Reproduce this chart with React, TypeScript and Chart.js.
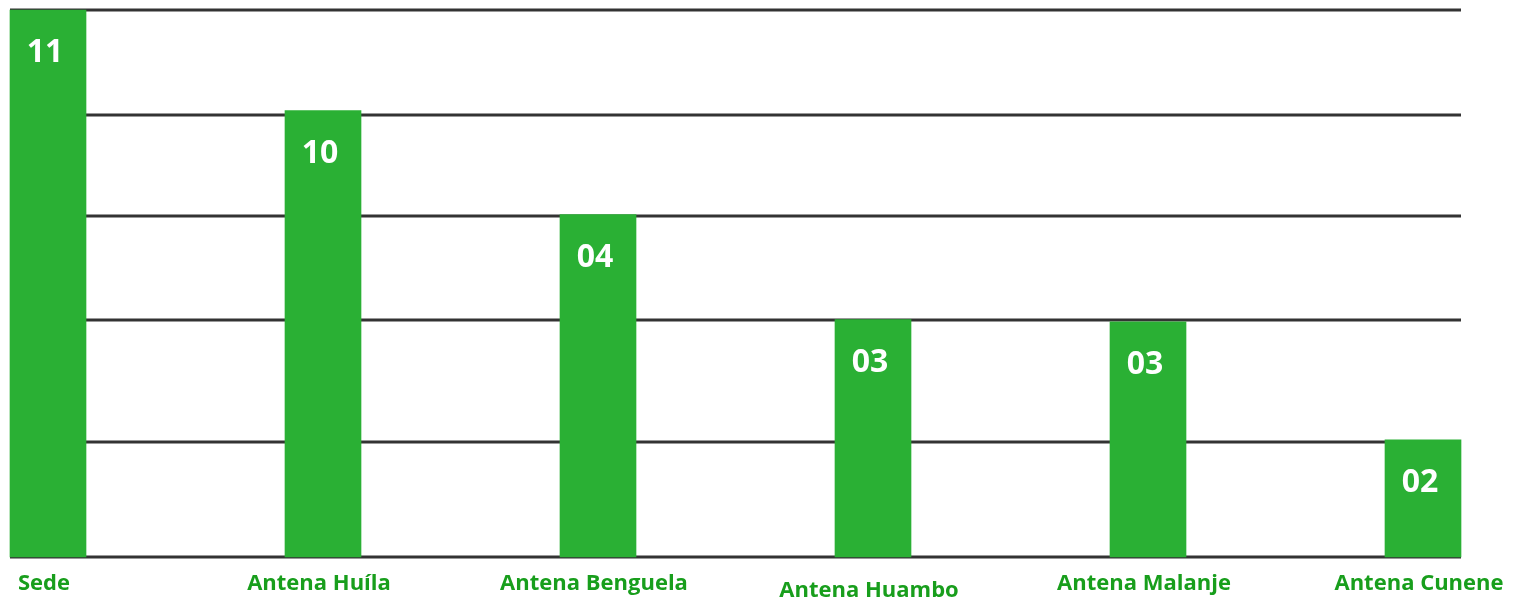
import React, { useEffect, useRef } from "react";
import { Chart, registerables } from "chart.js";

Chart.register(...registerables);

const categories = ["Sede", "Antena Huíla", "Antena Benguela", "Antena Huambo", "Antena Malanje", "Antena Cunene"];
const valueLabels = ["11", "10", "04", "03", "03", "02"];
// bar heights as drawn in the picture (grid levels)
const barLevels = [5, 4.08, 3.13, 2.17, 2.15, 1.07];
const gridLevels = [0, 1.05, 2.17, 3.12, 4.04, 5];

const BAR_COLOR = "#2AB034";
const LABEL_COLOR = "#189E1C";
const GRID_COLOR = "#333333";

export default function App() {
  const ref = useRef<HTMLCanvasElement | null>(null);

  useEffect(() => {
    if (!ref.current) return;
    const overlay = {
      id: "overlay",
      beforeDatasetsDraw(chart: any) {
        const ctx = chart.ctx;
        const y = chart.scales.y;
        ctx.save();
        ctx.strokeStyle = GRID_COLOR;
        ctx.lineWidth = 3;
        gridLevels.forEach((g) => {
          const py = Math.round(y.getPixelForValue(g));
          ctx.beginPath();
          ctx.moveTo(10, py);
          ctx.lineTo(1461, py);
          ctx.stroke();
        });
        ctx.restore();
      },
      afterDatasetsDraw(chart: any) {
        const ctx = chart.ctx;
        const meta = chart.getDatasetMeta(0);
        ctx.save();
        ctx.textAlign = "center";
        ctx.textBaseline = "middle";
        ctx.fillStyle = "#ffffff";
        ctx.font = "bold 32px 'Open Sans'";
        meta.data.forEach((bar: any, i: number) => {
          ctx.fillText(valueLabels[i], bar.x - 3, bar.y + 43);
        });
        ctx.fillStyle = LABEL_COLOR;
        ctx.font = "bold 22px 'Open Sans'";
        const xs = chart.scales.x;
        categories.forEach((c, i) => {
          const px = xs.getPixelForValue(i);
          ctx.fillText(c, px - 4, i === 3 ? 591 : 584);
        });
        ctx.restore();
      },
    };

    const chart = new Chart(ref.current, {
      type: "bar",
      data: {
        labels: categories,
        datasets: [
          {
            data: barLevels,
            backgroundColor: BAR_COLOR,
            borderWidth: 0,
            barThickness: 76,
            clip: false as any,
          },
        ],
      },
      options: {
        animation: false,
        responsive: true,
        maintainAspectRatio: false,
        layout: { padding: { left: 48, right: 101, top: 10, bottom: 42 } },
        plugins: { legend: { display: false }, tooltip: { enabled: false } },
        scales: {
          x: { display: false, offset: false, grid: { display: false } },
          y: { display: false, min: 0, max: 5, grid: { display: false } },
        },
      },
      plugins: [overlay],
    });
    return () => chart.destroy();
  }, []);

  return (
    <div style={{ position: "fixed", left: 0, top: 0, width: 1524, height: 599, background: "#fff" }}>
      <canvas ref={ref} />
    </div>
  );
}
